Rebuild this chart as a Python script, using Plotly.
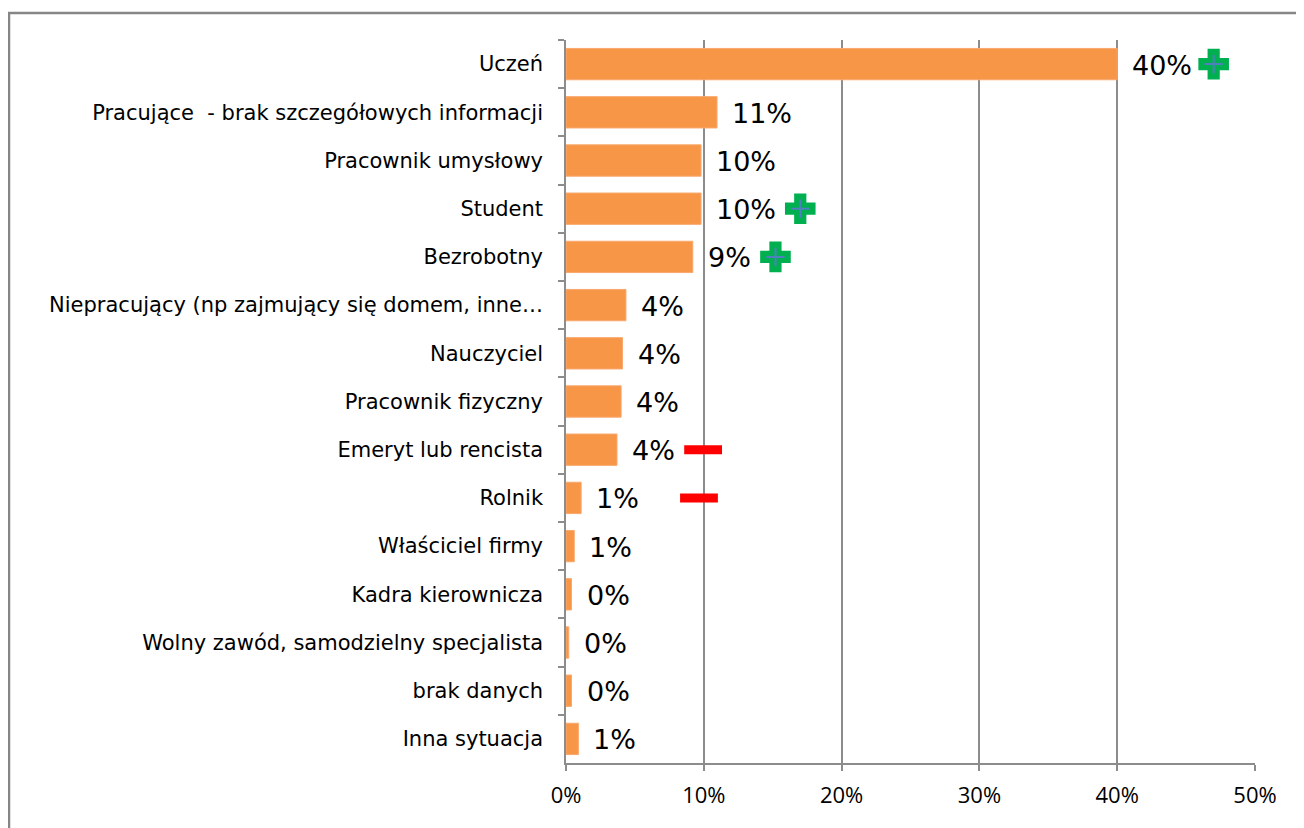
import plotly.graph_objects as go

categories = [
    "Uczeń",
    "Pracujące \u00a0- brak szczegółowych informacji",
    "Pracownik umysłowy",
    "Student",
    "Bezrobotny",
    "Niepracujący (np zajmujący się domem, inne…",
    "Nauczyciel",
    "Pracownik fizyczny",
    "Emeryt lub rencista",
    "Rolnik",
    "Właściciel firmy",
    "Kadra kierownicza",
    "Wolny zawód, samodzielny specjalista",
    "brak danych",
    "Inna sytuacja",
]
values = [40.0, 10.96, 9.8, 9.8, 9.2, 4.35, 4.1, 4.0, 3.7, 1.1, 0.6, 0.4, 0.2, 0.4, 0.9]
labels = [f"{round(v):.0f}%" for v in values]

plus_cats = ["Uczeń", "Student", "Bezrobotny"]
plus_x = [47.0, 17.0, 15.2]
minus_cats = ["Emeryt lub rencista", "Rolnik"]
minus_x = [9.95, 9.65]

tick_vals = [0, 10, 20, 30, 40, 50]
tick_text = [f"{v}%" for v in tick_vals]

# page has an 8px body margin; figure coordinates are page - 8
W, H = 1296, 820
L, R, T, B = 558, 49, 32, 65
pw, ph = W - L - R, H - T - B

fig = go.Figure()
fig.add_trace(go.Bar(
    x=values, y=categories, orientation="h",
    marker=dict(color="#F79646", line=dict(color="#F9A86E", width=1)),
    width=0.65, hoverinfo="skip",
))
# plus icons
fig.add_trace(go.Scatter(
    x=plus_x, y=plus_cats, mode="markers", cliponaxis=False,
    marker=dict(symbol="cross", size=23, color="#00B050",
                line=dict(color="#00B050", width=3)),
    hoverinfo="skip",
))
fig.add_trace(go.Scatter(
    x=plus_x, y=plus_cats, mode="markers", cliponaxis=False,
    marker=dict(symbol="cross-thin", size=13,
                line=dict(color="#4F7FBF", width=2)),
    hoverinfo="skip",
))
# minus icons
fig.add_trace(go.Scatter(
    x=minus_x, y=minus_cats, mode="markers", cliponaxis=False,
    marker=dict(symbol="line-ew", size=27,
                line=dict(color="#FF0000", width=9)),
    hoverinfo="skip",
))

for c, v, t in zip(categories, values, labels):
    fig.add_annotation(x=v, y=c, text=t, showarrow=False, xanchor="left",
                       xshift=13, yshift=-1,
                       font=dict(family="DejaVu Sans", size=27, color="#000000"))

# outer frame
fig.add_shape(type="rect", xref="paper", yref="paper",
              x0=(1 - L) / pw, x1=(W + 20 - L) / pw,
              y0=-(H + 20 - (T + ph)) / ph, y1=1 + (T - 5) / ph,
              line=dict(color="#868686", width=2.5), fillcolor="rgba(0,0,0,0)",
              layer="below")

fig.update_layout(
    width=W, height=H,
    margin=dict(l=L, r=R, t=T, b=B, autoexpand=False),
    paper_bgcolor="white", plot_bgcolor="white",
    showlegend=False, bargap=0.35,
    xaxis=dict(range=[0, 50], tickvals=tick_vals, ticktext=tick_text,
               showgrid=True, gridcolor="#8C8C8C", gridwidth=1.5,
               showline=True, linecolor="#8C8C8C", linewidth=1.5,
               ticks="outside", ticklen=6, tickcolor="#8C8C8C", tickwidth=1.5,
               ticklabelstandoff=6,
               tickfont=dict(family="Open Sans", size=22, color="#000000"),
               zeroline=False, fixedrange=True),
    yaxis=dict(autorange=False, range=[len(categories) - 0.5, -0.5],
               showline=True, linecolor="#8C8C8C",
               linewidth=1.5, ticks="outside", ticklen=6, tickwidth=1.5,
               tickcolor="#8C8C8C", tickson="boundaries",
               ticklabelstandoff=17,
               tickfont=dict(family="DejaVu Sans", size=21, color="#000000"),
               showgrid=False, fixedrange=True),
)

fig.write_html("out.html")
